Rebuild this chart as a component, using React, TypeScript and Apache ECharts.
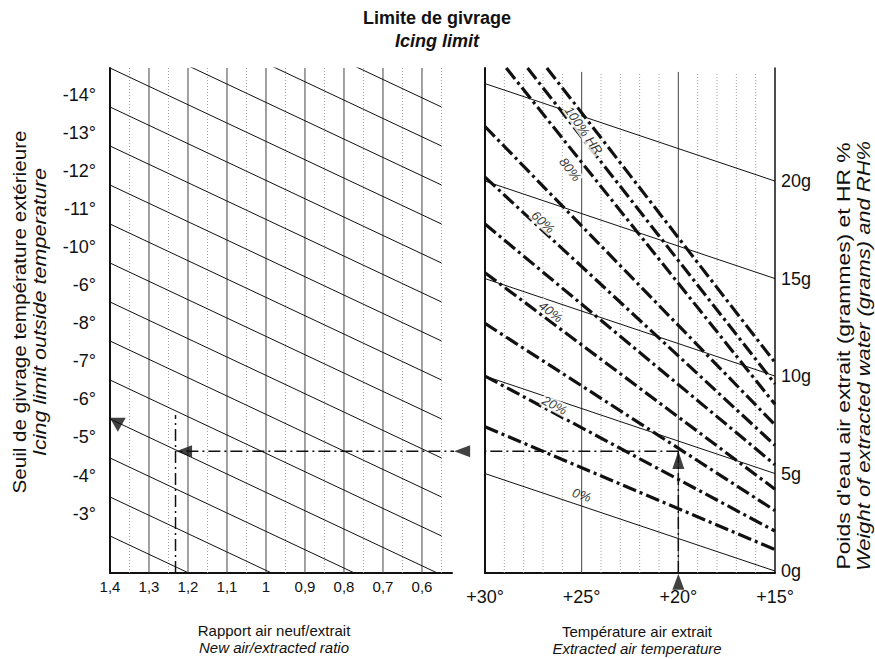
import React, { useEffect, useRef } from "react";
import * as echarts from "echarts";

const FONT = "'Liberation Sans', Arial, Helvetica, sans-serif";

// ---------- left panel : new air / extracted air ratio ----------
const ratioTicks = [1.4, 1.3, 1.2, 1.1, 1.0, 0.9, 0.8, 0.7, 0.6];
const ratioSolidGrid = [1.3, 1.2, 1.1, 1.0, 0.9, 0.8, 0.7, 0.6];
const ratioDottedGrid = [1.35, 1.25, 1.15, 1.05, 0.95, 0.85, 0.75, 0.65, 0.55];
const outsideTempLabels = ["-14°", "-13°", "-12°", "-11°", "-10°", "-6°", "-8°", "-7°", "-6°", "-5°", "-4°", "-3°"];
const outsideTempPos = [24.4, 22.45, 20.5, 18.55, 16.6, 14.65, 12.7, 10.75, 8.8, 6.85, 4.9, 2.95];
// icing-limit lines : value on the 1,4 axis and value at ratio 0,55
const icingAt14 = [31.8, 29.8, 27.8, 25.8, 23.8, 21.8, 19.8, 17.8, 15.8, 13.8, 11.8, 9.8, 7.8, 5.8, 3.8, 1.8];
const icingAt055 = [23.8, 21.8, 19.8, 17.8, 15.8, 13.8, 11.8, 9.8, 7.8, 5.8, 3.8, 1.8, -0.2, -2.2, -4.2, -6.2];

// ---------- right panel : extracted air temperature ----------
const tempTicks = [30, 25, 20, 15];
const tempSolidGrid = [25, 20];
const tempDottedGrid = [29, 28, 27, 26, 24, 23, 22, 21, 19, 18, 17, 16];
const weightTicks = [0, 5, 10, 15, 20];
const isoWeightAt30 = [25, 20, 15, 10, 5];
const isoWeightAt15 = [20, 15, 10, 5, 0];
// relative humidity curves 100 % ... 10 %
const rhStartTemp = [26.8, 27.8, 28.9, 30, 30, 30, 30, 30, 30, 30];
const rhStartWeight = [25.8, 25.8, 25.8, 22.8, 20.2, 17.8, 15.3, 12.7, 10.0, 7.4];
const rhEndWeight = [10.7, 9.6, 8.55, 7.5, 6.45, 5.45, 4.2, 3.1, 2.05, 1.1];
const curveLabelText = ["100% HR", "80%", "60%", "40%", "20%", "0%"];
const curveLabelTemp = [24.9, 25.6, 27.0, 26.6, 26.4, 25.0];
const curveLabelWeight = [22.6, 20.6, 17.9, 13.3, 8.5, 3.9];
const curveLabelAngle = [-55, -52, -43, -37, -28, -19];

// ---------- worked example ----------
const exampleTemp = 20;
const exampleWeight = 6.15;
const exampleRatio = 1.232;
const exampleRatioTop = 8.0;
const exampleLeftEnd = 0.44;
const exampleArrowRatio = [0.497, 1.21];
const exampleOutside = [1.38, 7.5];

const Y_MIN = -0.1;
const Y_MAX = 25.8;

const BLACK = "#111";
const HEAVY = { color: BLACK, width: 3.2, type: [14, 4, 3, 4] as number[], cap: "butt" as const };
const EXAMPLE = { color: BLACK, width: 1.5, type: [12, 4, 2, 4] as number[], cap: "butt" as const };

function seg(xi: number, yi: number, pts: any[], lineStyle: any, extra: any = {}) {
  return {
    type: "line",
    xAxisIndex: xi,
    yAxisIndex: yi,
    data: pts,
    showSymbol: false,
    symbol: "none",
    silent: true,
    animation: false,
    lineStyle,
    z: 2,
    ...extra,
  };
}

function buildOption(): any {
  const series: any[] = [];
  ratioDottedGrid.forEach((r) =>
    series.push(seg(0, 0, [[r, Y_MIN], [r, Y_MAX]], { color: "#a0a0a0", width: 1, type: [1, 2] }))
  );
  ratioSolidGrid.forEach((r) =>
    series.push(seg(0, 0, [[r, Y_MIN], [r, Y_MAX]], { color: "#444", width: 1 }))
  );
  icingAt14.forEach((v, i) =>
    series.push(seg(0, 0, [[1.4, v], [0.55, icingAt055[i]]], { color: BLACK, width: 1 }, { z: 3 }))
  );
  tempDottedGrid.forEach((t) =>
    series.push(seg(1, 2, [[t, Y_MIN], [t, 25.6]], { color: "#a0a0a0", width: 1, type: [1, 2] }))
  );
  tempSolidGrid.forEach((t) =>
    series.push(seg(1, 2, [[t, Y_MIN], [t, 25.6]], { color: "#444", width: 1 }))
  );
  isoWeightAt30.forEach((v, i) =>
    series.push(seg(1, 2, [[30, v], [15, isoWeightAt15[i]]], { color: BLACK, width: 1 }, { z: 3 }))
  );
  rhStartTemp.forEach((t, i) =>
    series.push(seg(1, 2, [[t, rhStartWeight[i]], [15, rhEndWeight[i]]], HEAVY, { z: 4 }))
  );
  series.push({
    type: "scatter",
    xAxisIndex: 1,
    yAxisIndex: 2,
    symbolSize: 1,
    itemStyle: { color: "rgba(0,0,0,0)" },
    silent: true,
    z: 6,
    data: curveLabelText.map((txt, i) => ({
      value: [curveLabelTemp[i], curveLabelWeight[i]],
      label: {
        show: true,
        position: "inside",
        formatter: txt,
        rotate: curveLabelAngle[i],
        fontSize: 13,
        fontStyle: "italic",
        fontFamily: FONT,
        color: "#000",
        backgroundColor: i === 5 ? "transparent" : "#fff",
        padding: [0, 1],
      },
    })),
  });
  series.push(seg(1, 2, [[exampleTemp, Y_MIN], [exampleTemp, exampleWeight]], EXAMPLE, { z: 5 }));
  series.push(seg(1, 2, [[exampleTemp, exampleWeight], [30, exampleWeight]], EXAMPLE, { z: 5 }));
  series.push(seg(0, 0, [[exampleLeftEnd, exampleWeight], [exampleRatio, exampleWeight]], EXAMPLE, { z: 5, clip: false }));
  series.push(seg(0, 0, [[exampleRatio, Y_MIN], [exampleRatio, exampleRatioTop]], EXAMPLE, { z: 5 }));
  series.push({
    type: "scatter",
    xAxisIndex: 1,
    yAxisIndex: 2,
    clip: false,
    silent: true,
    z: 7,
    symbol: "triangle",
    itemStyle: { color: BLACK },
    data: [
      { value: [exampleTemp, exampleWeight - 0.45], symbolSize: [12, 18] },
      { value: [exampleTemp, Y_MIN - 0.45], symbolSize: [12, 16] },
    ],
  });
  series.push({
    type: "scatter",
    xAxisIndex: 0,
    yAxisIndex: 0,
    clip: false,
    silent: true,
    z: 7,
    symbol: "triangle",
    itemStyle: { color: BLACK },
    data: [
      { value: [exampleArrowRatio[0], exampleWeight], symbolSize: [12, 16], symbolRotate: 90 },
      { value: [exampleArrowRatio[1], exampleWeight], symbolSize: [12, 16], symbolRotate: 90 },
      { value: exampleOutside, symbolSize: [16, 14], symbolRotate: 180 },
    ],
  });

  const txt = (text: string, x: number, y: number, size: number, opts: any = {}) => ({
    type: "text",
    x,
    y,
    rotation: opts.rotation || 0,
    scaleX: opts.scaleX || 1,
    silent: true,
    style: {
      text,
      fill: BLACK,
      fontSize: size,
      fontFamily: FONT,
      fontStyle: opts.italic ? "italic" : "normal",
      fontWeight: opts.bold ? "bold" : "normal",
      align: "center",
      verticalAlign: "middle",
      textAlign: "center",
      textVerticalAlign: "middle",
    },
  });

  return {
    animation: false,
    backgroundColor: "#fff",
    textStyle: { fontFamily: FONT },
    grid: [
      { left: 110, top: 68, width: 342, height: 505 },
      { left: 485, top: 68, width: 290, height: 505 },
    ],
    xAxis: [
      {
        gridIndex: 0,
        type: "value",
        min: 0.523,
        max: 1.4,
        inverse: true,
        axisLine: { show: true, onZero: false, lineStyle: { color: BLACK, width: 2 } },
        axisTick: { show: false },
        splitLine: { show: false },
        axisLabel: {
          customValues: ratioTicks,
          formatter: (v: number) => String(Math.round(v * 10) / 10).replace(".", ","),
          fontSize: 15,
          color: BLACK,
          margin: 6,
          fontFamily: FONT,
        },
      },
      {
        gridIndex: 1,
        type: "value",
        min: 15,
        max: 30,
        inverse: true,
        axisLine: { show: true, onZero: false, lineStyle: { color: BLACK, width: 2 } },
        axisTick: { show: false },
        splitLine: { show: false },
        axisLabel: {
          customValues: tempTicks,
          formatter: (v: number) => "+" + v + "°",
          fontSize: 18,
          color: BLACK,
          margin: 15,
          fontFamily: FONT,
        },
      },
    ],
    yAxis: [
      {
        gridIndex: 0,
        type: "value",
        min: Y_MIN,
        max: Y_MAX,
        position: "left",
        axisLine: { show: true, onZero: false, lineStyle: { color: BLACK, width: 2 } },
        axisTick: { show: false },
        splitLine: { show: false },
        axisLabel: {
          customValues: outsideTempPos,
          formatter: (v: number) => {
            const i = outsideTempPos.findIndex((p) => Math.abs(p - v) < 1e-6);
            return i >= 0 ? outsideTempLabels[i] : "";
          },
          fontSize: 18,
          color: BLACK,
          margin: 14,
          fontFamily: FONT,
        },
      },
      {
        gridIndex: 1,
        type: "value",
        min: Y_MIN,
        max: Y_MAX,
        position: "left",
        axisLine: { show: true, onZero: false, lineStyle: { color: BLACK, width: 2 } },
        axisTick: { show: false },
        axisLabel: { show: false },
        splitLine: { show: false },
      },
      {
        gridIndex: 1,
        type: "value",
        min: Y_MIN,
        max: Y_MAX,
        position: "right",
        axisLine: { show: true, onZero: false, lineStyle: { color: BLACK, width: 1.5 } },
        axisTick: { show: false },
        splitLine: { show: false },
        axisLabel: {
          customValues: weightTicks,
          formatter: (v: number) => v + "g",
          fontSize: 18,
          color: BLACK,
          margin: 6,
          fontFamily: FONT,
        },
      },
    ],
    graphic: [
      txt("Limite de givrage", 437, 18, 18, { bold: true }),
      txt("Icing limit", 437, 41, 18, { bold: true, italic: true }),
      txt("Seuil de givrage température extérieure", 20, 312, 18, { rotation: Math.PI / 2, scaleX: 1.15 }),
      txt("Icing limit outside temperature", 40, 312, 18, { rotation: Math.PI / 2, italic: true, scaleX: 1.2 }),
      txt("Poids d'eau air extrait (grammes) et HR %", 843, 356, 18, { rotation: Math.PI / 2, scaleX: 1.27 }),
      txt("Weight of extracted water (grams) and RH%", 864, 356, 18, { rotation: Math.PI / 2, italic: true, scaleX: 1.22 }),
      txt("Rapport air neuf/extrait", 274, 630, 15),
      txt("New air/extracted ratio", 274, 647, 15, { italic: true }),
      txt("Température air extrait", 637, 631, 15),
      txt("Extracted air temperature", 637, 648, 15, { italic: true }),
    ],
    series,
  };
}

export default function App() {
  const ref = useRef<HTMLDivElement>(null);
  useEffect(() => {
    if (!ref.current) return;
    const chart = echarts.init(ref.current, undefined, { renderer: "svg" });
    chart.setOption(buildOption());
    return () => chart.dispose();
  }, []);
  return (
    <div
      ref={ref}
      style={{ position: "fixed", left: 0, top: 0, width: 875, height: 659, background: "#fff" }}
    />
  );
}
